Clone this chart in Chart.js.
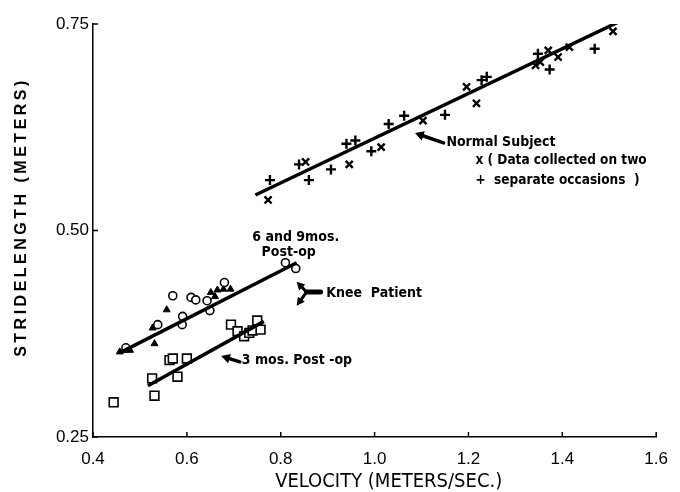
<!DOCTYPE html>
<html>
<head>
<meta charset="utf-8">
<script src="https://cdn.jsdelivr.net/npm/chart.js@4.4.1/dist/chart.umd.min.js"></script>
<style>
  html, body { margin: 0; padding: 0; background: #fff; }
  #wrap { width: 680px; height: 492px; }
</style>
</head>
<body>
<div id="wrap"><canvas id="cvs"></canvas></div>
<script>
// axis ticks
var xTicks = [0.4, 0.6, 0.8, 1.0, 1.2, 1.4, 1.6];
var yTicks = [0.25, 0.50, 0.75];

// normal subject, two sessions: velocity (m/s), stride length (m)
var normalPlusV = [0.777, 0.839, 0.860, 0.907, 0.940, 0.959, 0.993, 1.030, 1.063, 1.150, 1.228, 1.239, 1.348, 1.373, 1.469, 1.465];
var normalPlusS = [0.561, 0.580, 0.561, 0.574, 0.605, 0.609, 0.596, 0.629, 0.639, 0.640, 0.682, 0.686, 0.714, 0.695, 0.720, 0.759];
var normalCrossV = [0.773, 0.853, 0.946, 1.014, 1.103, 1.196, 1.217, 1.343, 1.353, 1.370, 1.391, 1.415, 1.500, 1.508];
var normalCrossS = [0.537, 0.583, 0.580, 0.601, 0.633, 0.674, 0.654, 0.700, 0.704, 0.718, 0.710, 0.722, 0.761, 0.741];

// knee patient, 6 and 9 months post-op
var kneeCircleV = [0.470, 0.538, 0.570, 0.590, 0.591, 0.609, 0.619, 0.643, 0.649, 0.680, 0.810, 0.832];
var kneeCircleS = [0.358, 0.386, 0.421, 0.386, 0.396, 0.419, 0.416, 0.415, 0.403, 0.437, 0.461, 0.454];
var kneeTriV = [0.457, 0.468, 0.479, 0.527, 0.531, 0.557, 0.651, 0.660, 0.665, 0.678, 0.693];
var kneeTriS = [0.353, 0.355, 0.355, 0.382, 0.363, 0.404, 0.425, 0.420, 0.428, 0.429, 0.429];

// knee patient, 3 months post-op
var kneeSquareV = [0.444, 0.526, 0.531, 0.563, 0.570, 0.580, 0.600, 0.694, 0.708, 0.722, 0.733, 0.740, 0.750, 0.757];
var kneeSquareS = [0.292, 0.321, 0.300, 0.343, 0.345, 0.323, 0.345, 0.386, 0.378, 0.372, 0.376, 0.379, 0.391, 0.380];

// fitted lines (end points)
var normalFitV = [0.746, 1.518];
var normalFitS = [0.543, 0.752];
var knee69FitV = [0.461, 0.834];
var knee69FitS = [0.353, 0.461];
var knee3FitV = [0.517, 0.764];
var knee3FitS = [0.312, 0.390];

function pts(vs, ss) {
	var out = [];
	for (let i in vs) {
		out.push({x: vs[i], y: ss[i]});
	}
	return out;
}

var NARROW = "'Liberation Sans Narrow', 'DejaVu Sans Condensed', 'Liberation Sans', sans-serif";

function arrow(ctx, x1, y1, x2, y2, head) {
	var a = Math.atan2(y2 - y1, x2 - x1);
	ctx.beginPath();
	ctx.moveTo(x1, y1);
	ctx.lineTo(x2 - Math.cos(a) * head * 0.6, y2 - Math.sin(a) * head * 0.6);
	ctx.stroke();
	ctx.beginPath();
	ctx.moveTo(x2, y2);
	ctx.lineTo(x2 - Math.cos(a - 0.5) * head, y2 - Math.sin(a - 0.5) * head);
	ctx.lineTo(x2 - Math.cos(a + 0.5) * head, y2 - Math.sin(a + 0.5) * head);
	ctx.closePath();
	ctx.fill();
}

var extras = {
	id: "extras",
	afterDraw: function(chart) {
		var ctx = chart.ctx;
		var xs = chart.scales.x, ys = chart.scales.y;
		var area = chart.chartArea;
		var X = function(v) { return xs.getPixelForValue(v); };
		var Y = function(v) { return ys.getPixelForValue(v); };
		ctx.save();
		ctx.strokeStyle = "#000";
		ctx.fillStyle = "#000";
		// inward tick marks
		ctx.lineWidth = 1.5;
		for (let t of xTicks) {
			ctx.beginPath();
			ctx.moveTo(X(t), area.bottom);
			ctx.lineTo(X(t), area.bottom - 5);
			ctx.stroke();
		}
		for (let t of yTicks) {
			ctx.beginPath();
			ctx.moveTo(area.left, Y(t));
			ctx.lineTo(area.left + 5, Y(t));
			ctx.stroke();
		}
		// axis titles
		ctx.textAlign = "center";
		ctx.textBaseline = "middle";
		ctx.font = "20px " + NARROW;
		ctx.fillText("VELOCITY (METERS/SEC.)", X(1.03), 482);
		ctx.save();
		ctx.translate(22, 217);
		ctx.rotate(-Math.PI / 2);
		ctx.font = "bold 16px 'Liberation Sans', Arial, sans-serif";
		ctx.letterSpacing = "3.5px";
		ctx.fillText("STRIDELENGTH (METERS)", 0, 0);
		ctx.restore();
		// annotations
		ctx.textAlign = "left";
		ctx.font = "bold 14px " + NARROW;
		ctx.fillText("Normal Subject", X(1.153), Y(0.607));
		ctx.font = "bold 13.5px " + NARROW;
		ctx.fillText("x ( Data collected on two", X(1.215), Y(0.585));
		ctx.fillText("+  separate occasions  )", X(1.215), Y(0.561));
		ctx.font = "bold 14px " + NARROW;
		ctx.fillText("Knee  Patient", X(0.897), Y(0.424));
		ctx.fillText("3 mos. Post -op", X(0.717), Y(0.343));
		ctx.textAlign = "center";
		ctx.fillText("6 and 9mos.", X(0.832), Y(0.492));
		ctx.fillText("Post-op", X(0.817), Y(0.473));
		// arrows
		ctx.lineWidth = 3.5;
		ctx.lineCap = "round";
		arrow(ctx, X(1.147), Y(0.606), X(1.086), Y(0.618), 10);
		arrow(ctx, X(0.713), Y(0.341), X(0.673), Y(0.348), 10);
		ctx.lineWidth = 5;
		ctx.beginPath();
		ctx.moveTo(X(0.885), Y(0.4255));
		ctx.lineTo(X(0.855), Y(0.4255));
		ctx.stroke();
		ctx.lineWidth = 3;
		arrow(ctx, X(0.855), Y(0.4255), X(0.834), Y(0.438), 9);
		arrow(ctx, X(0.855), Y(0.4255), X(0.834), Y(0.409), 9);
		ctx.restore();
	}
};

var markBase = {borderColor: "#000", clip: false};

var config = {
	type: "scatter",
	data: {
		datasets: [
			{
				type: "line", label: "Normal fit", data: pts(normalFitV, normalFitS),
				borderColor: "#000", borderWidth: 3.5, pointRadius: 0, fill: false
			},
			{
				type: "line", label: "6/9 mos fit", data: pts(knee69FitV, knee69FitS),
				borderColor: "#000", borderWidth: 3.5, pointRadius: 0, fill: false
			},
			{
				type: "line", label: "3 mos fit", data: pts(knee3FitV, knee3FitS),
				borderColor: "#000", borderWidth: 3.5, pointRadius: 0, fill: false
			},
			Object.assign({label: "Normal +", data: pts(normalPlusV, normalPlusS),
				pointStyle: "cross", pointRadius: 5, borderWidth: 2.4}, markBase),
			Object.assign({label: "Normal x", data: pts(normalCrossV, normalCrossS),
				pointStyle: "crossRot", pointRadius: 5, borderWidth: 2.4}, markBase),
			Object.assign({label: "6/9 mos o", data: pts(kneeCircleV, kneeCircleS),
				pointStyle: "circle", pointRadius: 4, borderWidth: 1.6, backgroundColor: "#fff"}, markBase),
			Object.assign({label: "6/9 mos tri", data: pts(kneeTriV, kneeTriS),
				pointStyle: "triangle", pointRadius: 4, borderWidth: 1, backgroundColor: "#000"}, markBase),
			Object.assign({label: "3 mos", data: pts(kneeSquareV, kneeSquareS),
				pointStyle: "rect", pointRadius: 6.2, borderWidth: 1.6, backgroundColor: "#fff"}, markBase)
		]
	},
	options: {
		responsive: true,
		maintainAspectRatio: false,
		animation: false,
		layout: {padding: {top: 24, right: 20, left: 0, bottom: 0}},
		plugins: {
			legend: false,
			tooltip: {enabled: false}
		},
		scales: {
			x: {
				type: "linear",
				min: 0.4,
				max: 1.6,
				afterBuildTicks: function(s) { s.ticks = xTicks.map(function(v) { return {value: v}; }); },
				afterFit: function(s) { s.height = 55; },
				grid: {display: false, drawTicks: false},
				border: {display: true, color: "#000", width: 1.5},
				ticks: {
					color: "#000",
					padding: 12,
					font: {family: "'Liberation Sans', Arial, sans-serif", size: 17},
					callback: function(v) { return Number(v).toFixed(1); }
				}
			},
			y: {
				type: "linear",
				min: 0.25,
				max: 0.75,
				afterBuildTicks: function(s) { s.ticks = yTicks.map(function(v) { return {value: v}; }); },
				afterFit: function(s) { s.width = 93; },
				grid: {display: false, drawTicks: false},
				border: {display: true, color: "#000", width: 1.5},
				ticks: {
					color: "#000",
					padding: 4,
					font: {family: "'Liberation Sans', Arial, sans-serif", size: 17},
					callback: function(v) { return Number(v).toFixed(2); }
				}
			}
		}
	},
	plugins: [extras]
};

var chart = new Chart("cvs", config);
</script>
</body>
</html>
